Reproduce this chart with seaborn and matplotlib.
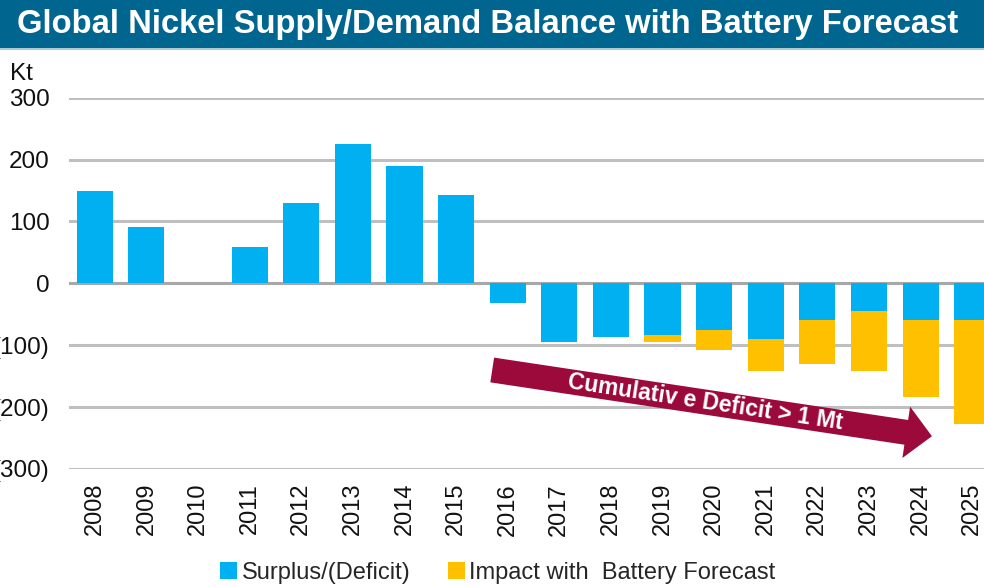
import matplotlib
matplotlib.use("Agg")
import numpy as np
import pandas as pd
import matplotlib.pyplot as plt
import seaborn as sns
from matplotlib.patches import Patch, Rectangle

# ---------------- data ----------------
years = ["2008", "2009", "2010", "2011", "2012", "2013", "2014", "2015", "2016",
         "2017", "2018", "2019", "2020", "2021", "2022", "2023", "2024", "2025"]
surplus_deficit = [150, 91, 0, 59, 130, 225, 189, 142, -32,
                   -95, -87, -84, -76, -90, -60, -45, -60, -60]
battery_impact = [0, 0, 0, 0, 0, 0, 0, 0, 0,
                  0, 0, -11, -31, -51, -70, -96, -124, -167]
y_ticks = [300, 200, 100, 0, -100, -200, -300]
y_tick_labels = ["300", "200", "100", "0", "(100)", "(200)", "(300)"]

title = "Global Nickel Supply/Demand Balance with Battery Forecast"
unit_label = "Kt"
series_names = ["Surplus/(Deficit)", "Impact with  Battery Forecast"]
arrow_text = "Cumulativ e Deficit > 1 Mt"

# ---------------- style ----------------
BLUE = "#00B0F0"
YELLOW = "#FFC000"
BANNER = "#00668F"
ARROW = "#9B0A3A"
GRID = "#BFBFBF"

sns.set_theme(style="white")
plt.rcParams["font.family"] = ["Liberation Sans", "DejaVu Sans"]

df = pd.DataFrame({"year": years, "surplus": surplus_deficit, "impact": battery_impact})
df["total"] = df["surplus"] + df["impact"]

W, H = 984, 587
fig = plt.figure(figsize=(W / 100, H / 100), dpi=100)

# axes in pixel geometry
left_px, right_px, top_px, bot_px = 69, 998, 97.7, 469
ax = fig.add_axes([left_px / W, 1 - bot_px / H, (right_px - left_px) / W, (bot_px - top_px) / H])

sns.barplot(data=df, x="year", y="total", color=YELLOW, saturation=1, width=0.7,
            edgecolor="none", ax=ax, zorder=2)
sns.barplot(data=df, x="year", y="surplus", color=BLUE, saturation=1, width=0.7,
            edgecolor="none", ax=ax, zorder=3)

ax.set_xlim(-0.5, len(years) - 0.5)
ax.set_ylim(-300, 300)
ax.set_yticks(y_ticks)
ax.set_yticklabels(y_tick_labels, fontsize=17.5, color="#111111")
ax.set_xticks(range(len(years)))
ax.set_xticklabels(years, rotation=90, fontsize=17, color="#111111")
ax.tick_params(axis="y", length=0, pad=14)
ax.tick_params(axis="x", length=0, pad=10)
ax.set_xlabel("")
ax.set_ylabel("")
for s in ax.spines.values():
    s.set_visible(False)
ax.yaxis.grid(True, color=GRID, linewidth=2.2, zorder=0)
ax.xaxis.grid(False)
ax.set_axisbelow(True)
ax.axhline(0, color="#A8A8A8", linewidth=2.2, zorder=1)

# arrow annotation
tail = (7.70, -140)
tip = (16.22, -247)
ax.annotate("", xy=tip, xytext=tail,
            arrowprops=dict(arrowstyle="simple,head_length=1.87,head_width=3.74,tail_width=1.8",
                            mutation_scale=10, facecolor=ARROW, edgecolor="none",
                            shrinkA=0, shrinkB=0),
            zorder=5)
p0 = ax.transData.transform(tail)
p1 = ax.transData.transform(tip)
angle = np.degrees(np.arctan2(p1[1] - p0[1], p1[0] - p0[0]))
ax.text(11.83, -192, arrow_text, rotation=angle, rotation_mode="anchor",
        ha="center", va="center", color="white", fontweight="bold", fontsize=16.5, zorder=6)

# title banner
fig.patches.append(Rectangle((0, 1 - 48 / H), 1, 48 / H, transform=fig.transFigure,
                             facecolor=BANNER, edgecolor="none", zorder=0))
fig.patches.append(Rectangle((0, 1 - 50 / H), 1, 2 / H, transform=fig.transFigure,
                             facecolor="#A9CCD8", edgecolor="none", zorder=0))
fig.text(17 / W, 1 - 24 / H, title, color="white", fontweight="bold", fontsize=23.6,
         ha="left", va="center")

fig.text(10 / W, 1 - 74 / H, unit_label, fontsize=17.5, color="#111111", ha="left", va="center")

handles = [Patch(facecolor=BLUE, edgecolor="none", label=series_names[0]),
           Patch(facecolor=YELLOW, edgecolor="none", label=series_names[1])]
fig.legend(handles=handles, loc="center", bbox_to_anchor=(498 / W, 1 - 573 / H), ncol=2,
           frameon=False, fontsize=17, handlelength=0.7, handleheight=0.7,
           handletextpad=0.2, columnspacing=1.6, borderpad=0, borderaxespad=0)

fig.savefig("out.png", dpi=100)
